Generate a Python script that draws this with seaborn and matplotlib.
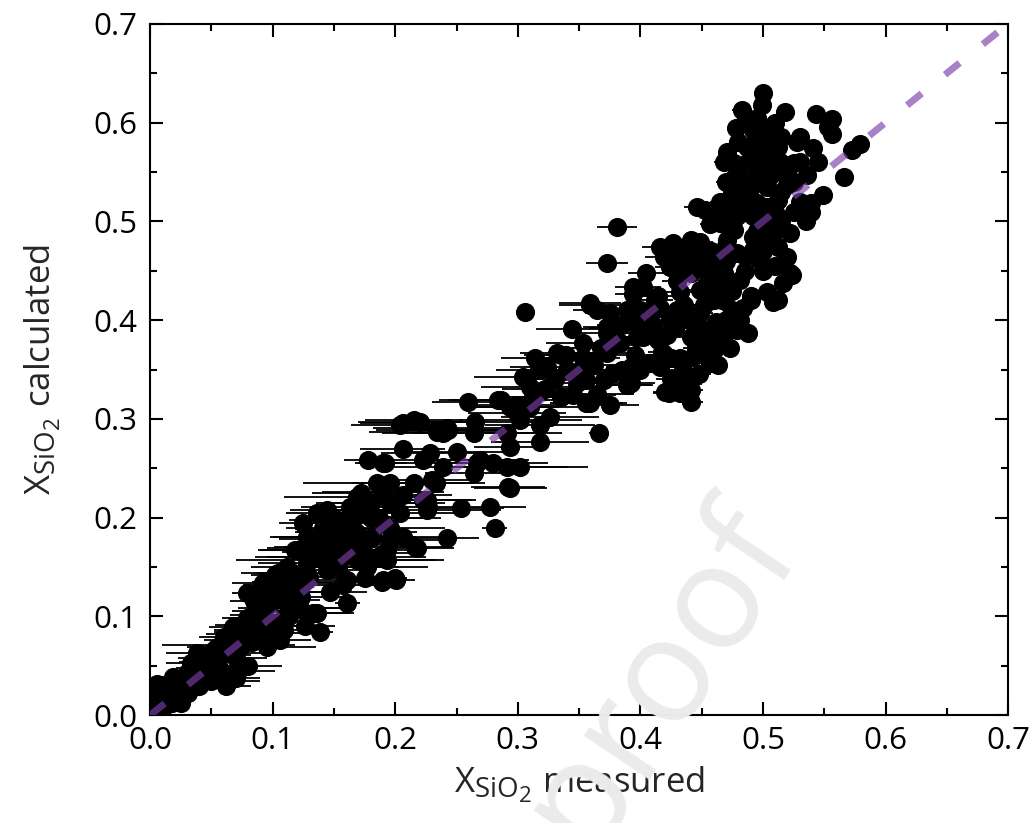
import numpy as np
import pandas as pd
import matplotlib
matplotlib.use("Agg")
import matplotlib.pyplot as plt
import matplotlib._mathtext as _mt
from matplotlib.ticker import MultipleLocator, FormatStrFormatter
import seaborn as sns

# ---------------- data ----------------
# low range (X_SiO2 < ~0.1)
low_x = [.002, .002, .006, .008, .014, .019, .022, .030, .033, .038,
         .047, .051, .055, .060, .060, .065, .068, .076, .079, .087,
         .091, .092, .095, .098, .004, .008, .012, .016, .020, .024,
         .029, .033, .037, .041, .045, .049, .053, .057, .064, .069,
         .072, .078, .082, .086, .090, .094, .010, .025, .040, .080,
         .062, .072, .070, .058, .050,
         .005, .012, .018, .026, .031, .036, .043, .048, .052, .056,
         .061, .066, .070, .074, .079, .083, .088, .093, .097, .085]
low_y = [.008, .018, .032, .022, .028, .039, .025, .043, .053, .063,
         .056, .046, .069, .035, .079, .063, .089, .076, .124, .106,
         .132, .083, .069, .113, .015, .010, .017, .015, .020, .025,
         .030, .035, .040, .048, .044, .054, .056, .061, .071, .076,
         .084, .091, .086, .096, .101, .098, .005, .012, .030, .050,
         .030, .045, .038, .045, .035,
         .003, .022, .012, .035, .022, .030, .058, .038, .066, .048,
         .066, .082, .058, .070, .098, .074, .088, .120, .090, .116]
low_err = [.004, .005, .010, .008, .010, .012, .010, .015, .020, .025,
           .020, .015, .025, .030, .020, .030, .020, .025, .012, .020,
           .015, .030, .040, .020, .005, .006, .008, .008, .010, .012,
           .012, .015, .015, .020, .018, .025, .020, .025, .054, .025,
           .020, .025, .030, .020, .025, .030, .005, .008, .012, .028,
           .020, .030, .020, .015, .015,
           .006, .008, .008, .012, .010, .012, .020, .015, .020, .018,
           .025, .020, .025, .020, .020, .030, .025, .020, .030, .020]

# 0.1 - 0.2
m1_x = [.102, .106, .109, .120, .133, .139, .161, .092, .092, .104,
        .109, .109, .109, .117, .120, .122, .125, .125, .128, .131,
        .136, .136, .136, .141, .144, .144, .153, .153, .155, .155,
        .161, .163, .166, .169, .171, .171, .175, .178, .185, .189,
        .190, .192, .193, .196, .196, .201, .177, .200, .128, .115,
        .100, .145, .160, .180, .175, .185, .165, .125, .144, .153,
        .118, .169, .190, .190, .196, .193,
        .105, .112, .118, .123, .130, .135, .140, .148, .150, .158,
        .162, .168, .172, .180, .182, .187, .113, .126, .147, .157]
m1_y = [.142, .076, .099, .109, .103, .084, .114, .109, .134, .144,
        .130, .117, .086, .144, .167, .109, .195, .134, .154, .170,
        .205, .160, .103, .190, .208, .147, .198, .150, .187, .157,
        .137, .211, .201, .221, .208, .164, .139, .258, .235, .135,
        .226, .255, .157, .215, .177, .137, .150, .139, .180, .125,
        .120, .170, .185, .200, .175, .160, .180, .169, .180, .189,
        .167, .157, .137, .255, .235, .167,
        .125, .150, .135, .120, .140, .178, .160, .165, .180, .170,
        .195, .185, .225, .215, .180, .200, .100, .090, .125, .132]
m1_err = [.020, .025, .030, .040, .030, .010, .010, .020, .025, .030,
          .025, .030, .030, .030, .030, .035, .020, .030, .040, .030,
          .025, .050, .030, .030, .030, .040, .040, .050, .035, .085,
          .040, .040, .035, .060, .030, .040, .030, .020, .060, .020,
          .050, .025, .040, .045, .040, .015, .050, .010, .030, .030,
          .025, .035, .040, .050, .045, .040, .045, .030, .030, .035,
          .030, .040, .020, .020, .025, .030,
          .030, .030, .035, .040, .035, .030, .045, .040, .050, .045,
          .040, .050, .040, .045, .035, .050, .030, .025, .030, .030]

# 0.2 - 0.3
m2_x = [.206, .215, .204, .196, .216, .233, .239, .206, .206, .206,
        .204, .215, .218, .223, .223, .226, .230, .234, .239, .242,
        .243, .227, .259, .286, .294, .310, .302, .326, .318, .366,
        .318, .291, .265, .242, .234, .220, .264, .294, .250, .228,
        .269, .280, .302, .264, .294, .226, .254, .277, .281, .267,
        .291, .292, .299, .284]
m2_y = [.296, .299, .205, .190, .170, .235, .286, .223, .180, .270,
        .294, .235, .169, .258, .218, .208, .238, .289, .251, .179,
        .289, .211, .317, .319, .312, .312, .299, .302, .294, .286,
        .277, .286, .297, .291, .287, .297, .286, .272, .266, .265,
        .258, .255, .251, .245, .230, .218, .210, .211, .190, .255,
        .251, .231, .306, .319]
m2_err = [.035, .040, .050, .045, .030, .040, .050, .040, .040, .035,
          .040, .050, .030, .045, .040, .060, .040, .050, .040, .026,
          .045, .035, .029, .050, .040, .045, .050, .040, .045, .008,
          .040, .045, .050, .060, .055, .050, .050, .030, .040, .040,
          .040, .045, .055, .040, .030, .040, .035, .030, .010, .040,
          .050, .030, .040, .040]

# 0.3 - 0.4
m3_x = [.306, .344, .359, .375, .389, .408, .353, .373, .383, .397,
        .314, .332, .339, .324, .317, .304, .310, .351, .356, .370,
        .389, .335, .345, .356, .375, .381, .373, .359, .365, .378,
        .402, .378, .396, .420, .425, .335, .353, .392, .420, .437,
        .359, .299,
        .330, .340, .362, .368, .385, .395, .405, .412, .400, .385,
        .365, .348, .322, .312]
m3_y = [.408, .391, .415, .407, .410, .407, .377, .387, .377, .383,
        .362, .367, .365, .353, .350, .342, .332, .350, .339, .339,
        .334, .322, .324, .316, .314, .494, .458, .417, .410, .392,
        .404, .375, .365, .365, .362, .365, .362, .336, .327, .327,
        .316, .314,
        .340, .350, .355, .372, .395, .398, .395, .420, .350, .350,
        .325, .336, .330, .322]
m3_err = [.005, .029, .025, .020, .015, .010, .030, .025, .020, .015,
          .028, .030, .025, .030, .035, .040, .040, .030, .030, .025,
          .020, .040, .035, .030, .024, .016, .017, .025, .020, .020,
          .015, .025, .015, .010, .010, .030, .030, .020, .010, .010,
          .030, .040,
          .030, .030, .025, .025, .020, .015, .015, .015, .015, .020,
          .030, .030, .035, .035]

# 0.4 - 0.6
h_x = [.500, .499, .483, .518, .543, .556, .553, .556, .485, .492,
       .503, .528, .541, .471, .492, .503, .476, .468, .487, .498,
       .514, .525, .479, .495, .508, .520, .536, .566, .579, .573,
       .490, .503, .520, .549, .539, .487, .476, .495, .512, .446,
       .453, .468, .479, .492, .539, .465, .500, .476, .522, .492,
       .471, .416, .427, .441, .419, .432, .446, .459, .479, .492,
       .512, .520, .498, .522, .516, .503, .512, .405, .394, .402,
       .424, .441, .454, .468, .481, .465, .449, .432, .414, .490,
       .524, .508, .490, .484, .479, .488, .449, .454, .449, .441,
       .463, .457, .463, .443, .432, .438, .441, .441, .432, .423,
       .416, .408, .402, .414, .422, .424, .416, .394, .390, .378,
       .392, .373, .373, .449, .457, .465, .470, .480, .478, .510,
       .530, .510, .530, .460, .470, .460, .430, .440, .475, .500,
       .505, .515, .470, .455, .430, .400, .410,
       .485, .497, .507, .487, .500, .515, .495, .475, .485, .503,
       .495, .510, .485, .470, .460, .445, .435, .455, .467, .475,
       .440, .448, .455, .445, .435, .425, .418, .428, .436, .445,
       .452, .462, .468, .473, .481, .470, .458, .485, .510, .500,
       .515, .525, .505, .490, .512, .530, .545, .535, .525, .460]
h_y = [.630, .618, .613, .611, .609, .604, .596, .588, .601, .593,
       .593, .580, .574, .570, .576, .572, .559, .560, .559, .562,
       .560, .559, .549, .549, .549, .549, .547, .545, .578, .572,
       .535, .535, .537, .527, .519, .525, .522, .519, .522, .515,
       .512, .509, .505, .505, .510, .498, .498, .491, .488, .484,
       .481, .474, .478, .481, .464, .468, .471, .464, .468, .471,
       .474, .464, .461, .448, .438, .428, .420, .448, .434, .434,
       .454, .448, .451, .448, .441, .434, .431, .428, .424, .424,
       .446, .418, .420, .412, .390, .387, .407, .390, .377, .383,
       .380, .357, .355, .363, .362, .342, .329, .317, .326, .326,
       .353, .357, .383, .380, .385, .400, .412, .426, .334, .346,
       .353, .367, .393, .479, .497, .520, .540, .580, .595, .600,
       .560, .510, .520, .420, .400, .370, .410, .400, .430, .450,
       .480, .500, .460, .440, .440, .410, .395,
       .540, .545, .560, .575, .585, .585, .605, .530, .510, .515,
       .490, .490, .465, .475, .455, .460, .455, .425, .420, .410,
       .335, .345, .365, .372, .350, .340, .368, .392, .415, .395,
       .415, .398, .385, .372, .400, .440, .470, .450, .455, .470,
       .530, .540, .545, .560, .575, .585, .560, .500, .510, .500]
h_err = [.005, .005, .008, .006, .005, .005, .005, .005, .006, .006,
         .006, .005, .005, .006, .005, .005, .008, .008, .006, .006,
         .006, .006, .008, .006, .006, .006, .005, .005, .005, .005,
         .006, .006, .006, .005, .006, .008, .008, .006, .006, .010,
         .010, .008, .008, .006, .005, .008, .006, .008, .006, .006,
         .008, .015, .012, .012, .015, .012, .010, .010, .008, .006,
         .006, .006, .006, .006, .006, .006, .006, .015, .015, .015,
         .012, .010, .010, .008, .008, .008, .010, .012, .015, .006,
         .006, .006, .006, .006, .006, .006, .010, .008, .008, .010,
         .008, .008, .008, .010, .010, .010, .010, .010, .012, .013,
         .012, .012, .015, .012, .012, .012, .012, .015, .020, .020,
         .020, .020, .020, .010, .008, .008, .008, .006, .006, .006,
         .006, .006, .006, .008, .008, .008, .012, .010, .008, .006,
         .006, .006, .008, .008, .012, .015, .015,
         .006, .006, .006, .006, .006, .006, .006, .006, .006, .006,
         .006, .006, .006, .008, .008, .010, .010, .010, .008, .008,
         .010, .010, .008, .010, .012, .012, .012, .012, .012, .010,
         .010, .008, .008, .008, .008, .008, .008, .006, .006, .006,
         .006, .006, .006, .006, .006, .006, .006, .006, .006, .008]

# 1:1 reference line
line_x = [0.0, 0.7]
line_y = [0.0, 0.7]

tick_values = [0.0, 0.1, 0.2, 0.3, 0.4, 0.5, 0.6, 0.7]

# ---------------- assemble ----------------
df = pd.DataFrame({
    "measured": np.concatenate([low_x, m1_x, m2_x, m3_x, h_x]),
    "calculated": np.concatenate([low_y, m1_y, m2_y, m3_y, h_y]),
    "err": np.concatenate([low_err, m1_err, m2_err, m3_err, h_err]),
})

# ---------------- style ----------------
sns.set_theme(style="ticks")
plt.rcParams["font.family"] = ["Open Sans", "DejaVu Sans"]
plt.rcParams["mathtext.fontset"] = "custom"
plt.rcParams["mathtext.rm"] = "Open Sans"
plt.rcParams["mathtext.it"] = "Open Sans:italic"
plt.rcParams["mathtext.bf"] = "Open Sans:bold"
_mt.SHRINK_FACTOR = 0.8  # larger subscripts, as in the reference

fig, ax = plt.subplots(figsize=(10.35, 8.23), dpi=100)
fig.subplots_adjust(left=0.145, right=0.974, bottom=0.131, top=0.971)
fig.patch.set_facecolor("white")
ax.set_facecolor("white")

ax.errorbar(df["measured"], df["calculated"], xerr=df["err"], fmt="none",
            ecolor="black", elinewidth=1.3, capsize=0, zorder=2)
sns.scatterplot(data=df, x="measured", y="calculated", color="black",
                s=190, linewidth=0, ax=ax, zorder=3, legend=False)
sns.lineplot(x=line_x, y=line_y, ax=ax, color="#7B3EA9", alpha=0.65,
             linewidth=5, linestyle=(0, (2.7, 4.3)), zorder=4, legend=False)

ax.set_xlim(0, 0.7)
ax.set_ylim(0, 0.7)
ax.set_xticks(tick_values)
ax.set_yticks(tick_values)
ax.xaxis.set_minor_locator(MultipleLocator(0.05))
ax.yaxis.set_minor_locator(MultipleLocator(0.05))
ax.xaxis.set_major_formatter(FormatStrFormatter("%.1f"))
ax.yaxis.set_major_formatter(FormatStrFormatter("%.1f"))

ax.tick_params(which="both", direction="in", top=True, right=True,
               width=1.5, colors="black", labelsize=22.5)
ax.tick_params(which="major", length=9.5)
ax.tick_params(which="minor", length=5)
ax.tick_params(axis="x", which="major", pad=8)
ax.tick_params(axis="y", which="major", pad=9)
for sp in ax.spines.values():
    sp.set_linewidth(1.5)
    sp.set_color("black")
    sp.set_visible(True)

ax.set_xlabel(r"X$_{\mathrm{SiO_2}}$ measured", fontsize=25, labelpad=6)
ax.set_ylabel(r"X$_{\mathrm{SiO_2}}$ calculated", fontsize=25, labelpad=22)

# journal watermark
fig.text(0.782, 0.318, "Journal Pre-proof", rotation=56, rotation_mode="anchor",
         ha="right", va="baseline", fontsize=106, color="#ebebeb", zorder=10)

fig.savefig("out.png", dpi=100)
